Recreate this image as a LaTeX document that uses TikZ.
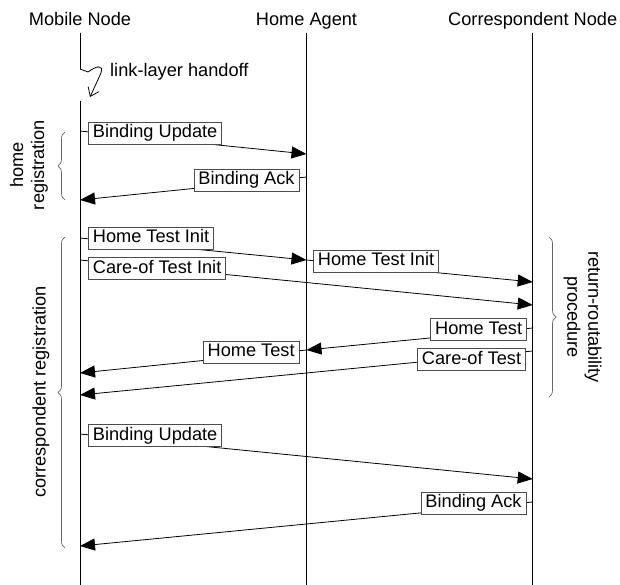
\documentclass[tikz,border=0pt]{standalone}
\usepackage{fontspec}
\setmainfont{Liberation Sans}
\usetikzlibrary{arrows.meta,decorations.pathreplacing}
\begin{document}
\begin{tikzpicture}[x=1pt,y=1pt,
  font=\fontsize{18.2}{21}\selectfont,
  life/.style={line width=0.9pt},
  msg/.style={line width=0.8pt,-{Triangle[length=15pt,width=12pt]}},
  lbl/.style={draw=black!70,line width=0.8pt,fill=white,inner xsep=4.5pt,inner ysep=2pt,text height=13.5pt,text depth=4.5pt},
  brc/.style={draw=black!60,line width=0.7pt,decorate,decoration={brace,amplitude=7pt}},
  title/.style={anchor=base,inner sep=0pt},
  rot/.style={align=center,inner sep=0pt}
]
\useasboundingbox (0,0) rectangle (620,-585);
% lifelines
\coordinate (mnT) at (80,-33); \coordinate (mnH) at (80,-69);
\coordinate (mnB) at (80,-101); \coordinate (mnE) at (80,-585);
\coordinate (haT) at (306.5,-33); \coordinate (haE) at (306.5,-585);
\coordinate (cnT) at (532.7,-33); \coordinate (cnE) at (532.7,-585);
\draw[life] (mnT) -- (mnH);
\draw[life] (mnB) -- (mnE);
\draw[life] (haT) -- (haE);
\draw[life] (cnT) -- (cnE);
% titles
\node[title] (tmn) at (80,-26) {Mobile Node};
\node[title] (tha) at (306.5,-26) {Home Agent};
\node[title] (tcn) at (532.7,-26) {Correspondent Node};
% handoff
\coordinate (hoA) at (88,-72);
\coordinate (hoB) at (101,-73);
\coordinate (hoTip) at (90,-97);
\draw[line width=0.8pt,-{Straight Barb[length=8pt,width=12pt]}] (mnH) -- (hoA) .. controls (96,-66) and (104,-64) .. (hoB) -- (hoTip);
\node[anchor=base west,inner sep=0pt] (holbl) at (110,-77) {link-layer handoff};
% message end points
\coordinate (m1s) at (80,-131);    \coordinate (m1e) at (306.5,-154);
\coordinate (m2s) at (306.5,-177); \coordinate (m2e) at (80,-200);
\coordinate (m3s) at (80,-238);    \coordinate (m3e) at (306.5,-260);
\coordinate (m4s) at (306.5,-260); \coordinate (m4e) at (532.7,-282);
\coordinate (m5s) at (80,-260);    \coordinate (m5e) at (532.7,-305);
\coordinate (m6s) at (532.7,-328); \coordinate (m6e) at (306.5,-350);
\coordinate (m7s) at (306.5,-350); \coordinate (m7e) at (80,-373);
\coordinate (m8s) at (532.7,-351); \coordinate (m8e) at (80,-395);
\coordinate (m9s) at (80,-434);    \coordinate (m9e) at (532.7,-479);
\coordinate (m10s) at (532.7,-502); \coordinate (m10e) at (80,-546);
\draw[msg] (m1s) -- (m1e);
\draw[msg] (m2s) -- (m2e);
\draw[msg] (m3s) -- (m3e);
\draw[msg] (m4s) -- (m4e);
\draw[msg] (m5s) -- (m5e);
\draw[msg] (m6s) -- (m6e);
\draw[msg] (m7s) -- (m7e);
\draw[msg] (m8s) -- (m8e);
\draw[msg] (m9s) -- (m9e);
\draw[msg] (m10s) -- (m10e);
% labels
\node[lbl,anchor=west] (b1) at (88,-133) {Binding Update};
\node[lbl,anchor=east] (b2) at (299.5,-180.5) {Binding Ack};
\node[lbl,anchor=west] (b3) at (88,-238) {Home Test Init};
\node[lbl,anchor=west] (b4) at (313,-261) {Home Test Init};
\node[lbl,anchor=west] (b5) at (88,-268.5) {Care-of Test Init};
\node[lbl,anchor=east] (b6) at (527,-329.5) {Home Test};
\node[lbl,anchor=east] (b7) at (299.5,-352) {Home Test};
\node[lbl,anchor=east] (b8) at (526,-359.5) {Care-of Test};
\node[lbl,anchor=west] (b9) at (88,-435.5) {Binding Update};
\node[lbl,anchor=east] (b10) at (526.5,-503) {Binding Ack};
% braces
\coordinate (br1a) at (65,-200); \coordinate (br1b) at (65,-132);
\coordinate (br2a) at (65,-548); \coordinate (br2b) at (65,-237);
\coordinate (br3a) at (549,-237); \coordinate (br3b) at (549,-397);
\draw[brc] (br1a) -- (br1b);
\draw[brc] (br2a) -- (br2b);
\draw[brc] (br3a) -- (br3b);
\node[rot,rotate=90] (l1) at (29,-165) {home\\registration};
\node[rot,rotate=90] (l2) at (41,-392) {correspondent registration};
\node[rot,rotate=-90] (l3) at (582.5,-317) {return-routability\\procedure};
\end{tikzpicture}
\end{document}
